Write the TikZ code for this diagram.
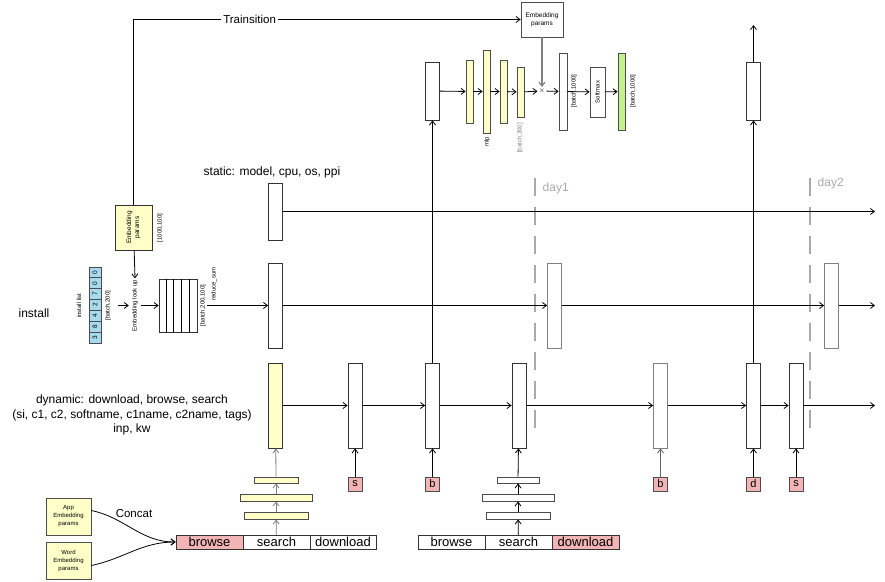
\documentclass[tikz,border=0pt]{standalone}
\usepackage{fontspec}
\setmainfont{Liberation Sans}
\usetikzlibrary{arrows.meta}
\definecolor{ylw}{RGB}{255,255,200}
\definecolor{lblue}{RGB}{168,218,238}
\definecolor{lpink}{RGB}{242,180,180}
\definecolor{lgreen}{RGB}{198,240,142}
\definecolor{dayc}{RGB}{170,170,170}
\tikzset{
  col/.style={draw=black!80,fill=white,inner sep=0pt,minimum width=14pt,minimum height=85pt},
  bar/.style={draw=black!70,fill=ylw,inner sep=0pt,minimum width=7pt},
  tag/.style={draw=black!70,fill=lpink,inner sep=0pt,minimum width=14pt,minimum height=14pt,font=\fontsize{11}{11}\selectfont},
  strip/.style={draw=black!80,inner sep=0pt,minimum height=14pt,font=\fontsize{13}{13}\selectfont},
  tiny/.style={font=\fontsize{6}{7}\selectfont,inner sep=1pt},
  big/.style={font=\fontsize{12}{14.5}\selectfont},
  dayline/.style={dayc,line width=2.5pt,dash pattern=on 18pt off 11pt},
}
\begin{document}
\begin{tikzpicture}[x=1pt,y=-1pt,>={Straight Barb[length=4pt,width=6pt]},line width=0.8pt]
\useasboundingbox (0,0) rectangle (885,581);
% left: install list and embedding
\node[draw=black!80,fill=ylw,minimum width=37pt,minimum height=45pt,inner sep=0pt] (emb) at (133.5,227.5) {};
\node[rotate=90,align=center,font=\fontsize{6.5}{8}\selectfont] at (emb) {Embedding\\params};
\node[tiny,rotate=90] at (160,228) {[1000,100]};
\foreach \v [count=\i] in {3,8,4,2,7,0,0}
  \node[draw=black!70,fill=lblue,inner sep=0pt,minimum width=12pt,minimum height=10.86pt,font=\fontsize{6.5}{7}\selectfont]
    (l\i) at (95,{343-(\i-0.5)*10.86}) {\rotatebox{90}{\v}};
\node[tiny,rotate=90] (lst) at (79,305.5) {install list};
\node[tiny,rotate=90] (b200) at (108,305.5) {[batch,200]};
\node[tiny,rotate=90] (look) at (135,305.5) {Embedding look up};
\node[draw=black!80,minimum width=38pt,minimum height=53pt,inner sep=0pt] (mx) at (178,305.5) {};
\foreach \i in {1,...,4}
  \draw ([xshift=\i*7.6pt]mx.north west) -- ([xshift=\i*7.6pt]mx.south west);
\node[tiny,rotate=90] (mxl) at (203,305.5) {[batch,200,100]};
\node[tiny,rotate=90] at (214,284) {reduce\_sum};
\draw[->] (emb) -- (look.east);
\draw[->,shorten <=6pt,shorten >=2pt] (b200.south) -- (look.north);
\draw[->,shorten <=2pt] (look.south) -- (mx.west);
% row labels
\node[big,anchor=west] at (200,172) {static: model, cpu, os, ppi};
\node[big] at (34,313) {install};
\node[big,align=center] at (132,415) {dynamic: download, browse, search\\(si, c1, c2, softname, c1name, c2name, tags)\\inp, kw};
% day markers
\draw[dayline] (535,178) -- (535,432);
\draw[dayline] (810,178) -- (810,432);
\node[big,dayc,anchor=west] at (539,188) {day1};
\node[big,dayc,anchor=west] at (814,183) {day2};
% static and install rows
\node[col,minimum height=57pt] (st) at (275.5,211.5) {};
\node[col] (in0) at (275.5,305.5) {};
\node[col,draw=black!50] (in1) at (554.5,305.5) {};
\node[col,draw=black!50] (in2) at (831.5,305.5) {};
\coordinate (stend) at (875,211.5);
\coordinate (inend) at (875,305.5);
\draw[->] (st) -- (stend);
\draw[->] (mxl.south) -- (in0.west);
\draw[->] (in0) -- (in1);
\draw[->] (in1) -- (in2);
\draw[->] (in2) -- (inend);
% dynamic row
\node[col,fill=ylw] (dy0) at (275.5,405.5) {};
\node[col] (d1) at (355,405.5) {};
\node[col] (d2) at (432.5,405.5) {};
\node[col] (d3) at (519,405.5) {};
\node[col,draw=black!50] (d4) at (660.5,405.5) {};
\node[col] (d5) at (753.5,405.5) {};
\node[col] (d6) at (796,405.5) {};
\coordinate (dyend) at (875,405.5);
\draw[->] (dy0) -- (d1);
\draw[->] (d1) -- (d2);
\draw[->] (d2) -- (d3);
\draw[->] (d3) -- (d4);
\draw[->] (d4) -- (d5);
\draw[->] (d5) -- (d6);
\draw[->] (d6) -- (dyend);
\node[tag] (t1) at (355,484) {s};
\node[tag] (t2) at (432.5,484) {b};
\node[tag] (t4) at (660.5,484) {b};
\node[tag] (t5) at (753.5,484) {d};
\node[tag] (t6) at (796,484) {s};
\foreach \t/\d in {t1/d1,t2/d2,t5/d5,t6/d6}
  \draw[->] (\t) -- (\d);
\draw[->,black!60] (t4) -- (d4);
% heads
\node[col,minimum height=58pt] (h1) at (432.5,91) {};
\node[col,minimum height=58pt] (h2) at (753.5,91) {};
\coordinate (h2end) at (753.5,25);
\draw[->] (d2) -- (h1);
\draw[->] (d5) -- (h2);
\draw[->] (h2) -- (h2end);
% mlp and softmax
\node[bar,minimum height=63pt] (y1) at (469.5,91.5) {};
\node[bar,minimum height=83pt] (y2) at (486.5,91.5) {};
\node[bar,minimum height=63pt] (y3) at (503.5,91.5) {};
\node[bar,minimum height=50pt] (y4) at (520.5,92) {};
\node[tiny,rotate=90] at (487,142) {mlp};
\node[tiny,rotate=90,black!50] at (520,138) {[batch,300]};
\node[inner sep=1pt,font=\fontsize{7}{7}\selectfont] (mul) at (542,91) {$\times$};
\node[draw=black!70,fill=white,inner sep=0pt,minimum width=8pt,minimum height=77pt] (wb) at (563,91.5) {};
\node[tiny,rotate=90] at (574,91) {[batch,1000]};
\node[draw=black!70,inner sep=0pt,minimum width=15pt,minimum height=50pt] (sm) at (597.5,92) {};
\node[tiny,rotate=90] at (sm) {Softmax};
\node[bar,fill=lgreen,minimum height=77pt] (gr) at (621.5,91.5) {};
\node[tiny,rotate=90] at (633,91) {[batch,1000]};
\node[draw=black!70,fill=white,minimum width=42pt,minimum height=35pt,inner sep=0pt,align=center,font=\fontsize{6.5}{8}\selectfont] (ep) at (542,19.5) {Embedding\\params};
\draw[->] (h1) -- (y1);
\draw[->] (y1) -- (y2);
\draw[->] (y2) -- (y3);
\draw[->] (y3) -- (y4);
\draw[->] (y4) -- (mul);
\draw[->] (mul) -- (wb);
\draw[->] (wb) -- (sm);
\draw[->] (sm) -- (gr);
\draw[->,black!50,line width=1.1pt] (ep) -- (mul);
\draw[->] (emb.north) |- node[pos=0.65,fill=white,font=\fontsize{11.5}{12}\selectfont,inner sep=2pt] {Trainsition} (ep.west);
% concat inputs
\node[draw=black!70,fill=ylw,minimum width=45pt,minimum height=37pt,inner sep=0pt,align=center,font=\fontsize{6}{8}\selectfont] (app) at (68.5,516.5) {App\\Embedding\\params};
\node[draw=black!70,fill=ylw,minimum width=45pt,minimum height=37pt,inner sep=0pt,align=center,font=\fontsize{6}{8}\selectfont] (word) at (68.5,560.5) {Word\\Embedding\\params};
\node[big,font=\fontsize{11.5}{12}\selectfont] at (134,514) {Concat};
\node[strip,fill=lpink,minimum width=67pt] (c1) at (209.5,542) {browse};
\node[strip,minimum width=67pt] (c2) at (276.5,542) {search};
\node[strip,minimum width=66pt] (c3) at (343,542) {download};
\node[strip,minimum width=67pt] (e1) at (451.5,542) {browse};
\node[strip,minimum width=67pt] (e2) at (518.5,542) {search};
\node[strip,fill=lpink,minimum width=67pt] (e3) at (585.5,542) {download};
\draw[->] ([yshift=6pt]app.east) to[out=-12,in=180] (c1.west);
\draw[->] ([yshift=-5pt]word.east) to[out=12,in=180] (c1.west);
% small stacks
\node[bar,minimum width=64pt,minimum height=7pt] (p1) at (276,515.5) {};
\node[bar,minimum width=72pt,minimum height=7pt] (p2) at (276,497.5) {};
\node[bar,minimum width=44pt,minimum height=6pt] (p3) at (276,480) {};
\node[bar,fill=white,minimum width=64pt,minimum height=7pt] (q1) at (518,515.5) {};
\node[bar,fill=white,minimum width=72pt,minimum height=7pt] (q2) at (518,497.5) {};
\node[bar,fill=white,minimum width=42pt,minimum height=6pt] (q3) at (518,480) {};
\draw[->,black!50] (c2) -- (p1);
\draw[->,black!50] (p1) -- (p2);
\draw[->,black!50] (p2) -- (p3);
\draw[->,black!50] (p3) -- (dy0);
\draw[->] (e2) -- (q1);
\draw[->] (q1) -- (q2);
\draw[->] (q2) -- (q3);
\draw[->] (q3) -- (d3);
\end{tikzpicture}
\end{document}
